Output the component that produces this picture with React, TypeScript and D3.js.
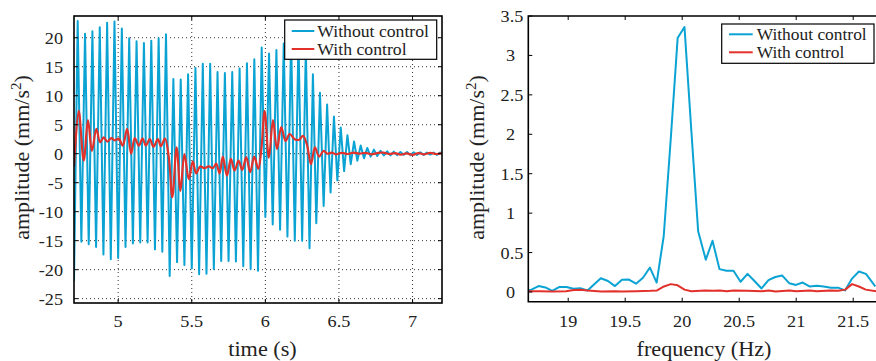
import React from 'react';
import * as d3 from 'd3';

// ---------- data ----------
const timeTicks = [5, 5.5, 6, 6.5, 7];
const ampTicks = [-25, -20, -15, -10, -5, 0, 5, 10, 15, 20];
const freqTicks = [19, 19.5, 20, 20.5, 21, 21.5];
const specTicks = [0, 0.5, 1, 1.5, 2, 2.5, 3, 3.5];

// trough times of the uncontrolled response (s): steady 20 Hz part, then free decay
const steadyTroughTimes = d3.range(33).map((k) => 4.7 + 0.05 * k);
const decayTroughTimes = [6.346, 6.396, 6.443, 6.489, 6.535, 6.58, 6.625, 6.67, 6.715, 6.76, 6.805, 6.85, 6.895, 6.94, 6.985, 7.03, 7.075, 7.12, 7.165, 7.21];
const troughValues = [-22.0, -15.2, -15.6, -16.1, -17.4, -18.2, -18.0, -16.1, -15.5, -15.3, -15.3, -16.5, -16.9, -21.1, -18.7, -19.2, -19.8, -20.8, -20.7, -19.9, -18.5, -18.5, -18.6, -19.4, -19.9, -20.2, -10.9, -12.2, -13.1, -14.3, -15.0, -15.0, -16.3, -12.0, -9.0, -6.7, -4.6, -3.0, -1.8, -1.2, -0.8, -0.5, -0.4, -0.3, -0.3, -0.25, -0.2, -0.25, -0.2, -0.2, -0.15, -0.2, -0.15];
const peakValues = [22.9, 20.7, 21.1, 21.8, 22.6, 22.8, 21.6, 19.9, 19.4, 19.1, 19.5, 19.9, 20.6, 12.9, 12.8, 13.7, 14.8, 15.5, 15.5, 14.1, 13.9, 14.1, 14.7, 15.6, 16.3, 18.3, 17.3, 17.9, 19.0, 20.0, 19.6, 18.2, 13.7, 10.5, 8.5, 6.4, 4.5, 3.2, 2.1, 1.4, 1.0, 0.7, 0.5, 0.4, 0.35, 0.3, 0.3, 0.25, 0.25, 0.2, 0.2, 0.2];

// controlled response
const ctrlTimes = [4.7, 4.732, 4.766, 4.795, 4.822, 4.852, 4.877, 4.902, 4.927, 4.954, 4.977, 5.004, 5.031, 5.061, 5.088, 5.113, 5.14, 5.166, 5.188, 5.215, 5.24, 5.27, 5.29, 5.318, 5.344, 5.368, 5.397, 5.423, 5.45, 5.48, 5.507, 5.53, 5.557, 5.586, 5.616, 5.643, 5.666, 5.689, 5.711, 5.739, 5.766, 5.791, 5.818, 5.843, 5.87, 5.897, 5.924, 5.952, 5.974, 5.995, 6.024, 6.052, 6.079, 6.108, 6.137, 6.165, 6.199, 6.229, 6.256, 6.283, 6.31, 6.337, 6.365, 6.396, 6.42, 6.45, 6.48, 6.52, 6.56, 6.6, 6.64, 6.68, 6.72, 6.76, 6.8, 6.84, 6.88, 6.92, 6.96, 7.0, 7.04, 7.08, 7.12, 7.16, 7.2];
const ctrlValues = [-2.3, 7.4, -1.2, 5.8, 0.5, 4.3, 2.0, 2.8, 2.1, 2.7, 2.3, 2.6, 1.4, 4.3, 0.0, 2.7, 1.4, 2.6, 1.4, 2.5, 1.2, 2.5, 1.3, 2.6, -0.6, -7.5, 1.1, -6.4, -0.05, -4.4, -1.3, -3.4, -2.2, -2.5, -2.2, -2.5, -1.7, -3.4, -0.5, -3.8, -0.9, -2.9, -1.2, -2.8, -0.6, -3.2, -0.5, -2.6, 1.1, 7.4, -0.7, 5.8, 0.8, 4.6, 2.2, 3.4, 2.5, 2.4, 3.1, 1.5, -1.8, 1.1, -0.5, 0.5, 0.0, 0.2, -0.1, 0.15, -0.05, 0.2, 0.0, 0.15, -0.1, 0.1, 0.2, -0.05, 0.1, -0.15, 0.05, -0.2, 0.1, -0.1, 0.15, -0.05, 0.1];

// spectra
const freqA = [18.65, 18.678, 18.74, 18.8, 18.86, 18.924, 18.985, 19.046, 19.106, 19.169, 19.286, 19.349, 19.41, 19.472, 19.529, 19.595, 19.656, 19.717, 19.776, 19.838, 19.9, 19.96, 20.02, 20.08, 20.14, 20.207, 20.266, 20.327, 20.389, 20.45, 20.512, 20.573, 20.634, 20.696, 20.757, 20.817, 20.876, 20.94, 20.998, 21.057, 21.117, 21.18, 21.24, 21.305, 21.367, 21.428, 21.49, 21.55, 21.612, 21.694];
const specWithout = [0.025, 0.03, 0.075, 0.058, 0.015, 0.065, 0.063, 0.042, 0.047, 0.02, 0.175, 0.14, 0.075, 0.155, 0.16, 0.105, 0.18, 0.31, 0.12, 0.71, 1.95, 3.22, 3.36, 2.05, 0.77, 0.41, 0.65, 0.29, 0.27, 0.27, 0.13, 0.23, 0.14, 0.045, 0.15, 0.19, 0.21, 0.11, 0.09, 0.12, 0.07, 0.08, 0.07, 0.055, 0.055, 0.02, 0.17, 0.26, 0.23, 0.07];
const freqB = [18.65, 18.74, 18.86, 18.98, 19.05, 19.11, 19.17, 19.29, 19.41, 19.47, 19.6, 19.72, 19.78, 19.84, 19.9, 19.96, 20.02, 20.08, 20.2, 20.27, 20.33, 20.39, 20.45, 20.57, 20.7, 20.76, 20.82, 20.94, 21.0, 21.12, 21.18, 21.3, 21.37, 21.43, 21.49, 21.55, 21.61, 21.7];
const specWith = [0.01, 0.01, 0.005, 0.01, 0.025, 0.03, 0.02, 0.005, 0.01, 0.005, 0.01, 0.015, 0.02, 0.07, 0.1, 0.085, 0.03, 0.01, 0.02, 0.015, 0.02, 0.01, 0.02, 0.015, 0.01, 0.02, 0.005, 0.02, 0.01, 0.02, 0.01, 0.02, 0.015, 0.03, 0.1, 0.07, 0.03, 0.01];

const legendLabels = ['Without control', 'With control'];

// ---------- style ----------
const BLUE = '#0aa3d4';
const RED = '#e2302a';
const FONT = '"Liberation Serif", "Times New Roman", Times, "DejaVu Serif", serif';

// width of a numeric tick label in a Times-like font (em units)
function numWidth(s: string, fs: number) {
  let w = 0;
  for (const ch of s) w += ch === '.' ? 0.25 : ch === '-' ? 0.333 : 0.5;
  return w * fs;
}

export default function App() {
  // left axes
  const L = { x0: 74, x1: 442, y0: 16, y1: 303 };
  const xT = d3.scaleLinear().domain([4.7, 7.2]).range([L.x0, L.x1]);
  const yA = d3.scaleLinear().domain([-25.75, 23.75]).range([L.y1, L.y0]);
  // right axes
  const R = { x0: 528.3, x1: 876, y0: 16, y1: 301.7 };
  const xF = d3.scaleLinear().domain([18.65, 21.7]).range([R.x0, R.x1]);
  const yS = d3.scaleLinear().domain([-0.123, 3.5]).range([R.y1, R.y0]);

  const troughTimes = steadyTroughTimes.concat(decayTroughTimes);
  const bluePts: [number, number][] = [];
  troughValues.forEach((v, k) => {
    bluePts.push([troughTimes[k], v]);
    if (k < peakValues.length) bluePts.push([(troughTimes[k] + troughTimes[k + 1]) / 2, peakValues[k]]);
  });
  const redPts: [number, number][] = ctrlTimes.map((t, i) => [t, ctrlValues[i]]);

  const lineL = d3.line<[number, number]>().x((d) => xT(d[0])).y((d) => yA(d[1]));
  const lineLs = d3.line<[number, number]>().x((d) => xT(d[0])).y((d) => yA(d[1])).curve(d3.curveCatmullRom.alpha(0.5));
  const lineR = d3.line<[number, number]>().x((d) => xF(d[0])).y((d) => yS(d[1]));

  const specA: [number, number][] = freqA.map((f, i) => [f, specWithout[i]]);
  const specB: [number, number][] = freqB.map((f, i) => [f, specWith[i]]);

  const tk = 4;
  const tickFs = 17.5;
  const txt = { fontFamily: FONT } as React.CSSProperties;
  const fit = 'spacingAndGlyphs';
  const legW = [[111.7, 89.3], [110, 87.7]];

  const Tick = (p: { x: number; y: number; s: string; anchor: string; dy?: string }) => (
    <text style={txt} x={p.x} y={p.y} dy={p.dy} textAnchor={p.anchor} fontSize={tickFs} fill="#222"
      textLength={numWidth(p.s, 18.2)} lengthAdjust={fit}>{p.s}</text>
  );

  const YLabel = (p: { x: number }) => (
    <text style={txt} transform={`translate(${p.x},157.5) rotate(-90)`} textAnchor="middle" fontSize={22} fill="#222">
      amplitude (mm/s<tspan fontSize={15} dy={-8}>2</tspan><tspan dy={8}>)</tspan>
    </text>
  );

  return (
    <svg width={876} height={361} style={{ position: 'absolute', left: 0, top: 0, background: '#fff', fontFamily: FONT }}>
      <defs>
        <clipPath id="clipL"><rect x={L.x0} y={L.y0} width={L.x1 - L.x0} height={L.y1 - L.y0} /></clipPath>
        <clipPath id="clipR"><rect x={R.x0} y={R.y0} width={R.x1 - R.x0 + 5} height={R.y1 - R.y0} /></clipPath>
      </defs>
      <rect x={0} y={0} width={876} height={361} fill="#fff" />

      {/* ---------- left plot ---------- */}
      <g>
        {timeTicks.map((t) => (
          <line key={'gx' + t} x1={xT(t)} x2={xT(t)} y1={L.y0} y2={L.y1} stroke="#333" strokeWidth={1} strokeDasharray="1,3" />
        ))}
        {ampTicks.map((v) => (
          <line key={'gy' + v} x1={L.x0} x2={L.x1} y1={yA(v)} y2={yA(v)} stroke="#333" strokeWidth={1} strokeDasharray="1,3" />
        ))}
        <g clipPath="url(#clipL)">
          <path d={lineL(bluePts) || ''} fill="none" stroke={BLUE} strokeWidth={2} strokeLinejoin="round" />
          <path d={lineLs(redPts) || ''} fill="none" stroke={RED} strokeWidth={2.2} strokeLinejoin="round" />
        </g>
        {timeTicks.map((t) => (
          <g key={'tx' + t}>
            <line x1={xT(t)} x2={xT(t)} y1={L.y1} y2={L.y1 - tk} stroke="#000" />
            <line x1={xT(t)} x2={xT(t)} y1={L.y0} y2={L.y0 + tk} stroke="#000" />
            <Tick x={xT(t)} y={326.7} s={String(t)} anchor="middle" />
          </g>
        ))}
        {ampTicks.map((v) => (
          <g key={'ty' + v}>
            <line x1={L.x0} x2={L.x0 + tk} y1={yA(v)} y2={yA(v)} stroke="#000" />
            <line x1={L.x1} x2={L.x1 - tk} y1={yA(v)} y2={yA(v)} stroke="#000" />
            <Tick x={63} y={yA(v)} dy="0.34em" s={String(v)} anchor="end" />
          </g>
        ))}
        <rect x={L.x0} y={L.y0} width={L.x1 - L.x0} height={L.y1 - L.y0} fill="none" stroke="#000" strokeWidth={1.6} />

        {/* legend */}
        <rect x={284.7} y={20} width={152} height={39.3} fill="#fff" stroke="#000" strokeWidth={1.2} />
        {legendLabels.map((lab, i) => (
          <g key={'ll' + i}>
            <line x1={291.7} x2={314.3} y1={31 + 18 * i} y2={31 + 18 * i} stroke={i === 0 ? BLUE : RED} strokeWidth={2} />
            <text style={txt} x={317.3} y={36.6 + 18 * i} fontSize={17} fill="#222" textLength={legW[0][i]} lengthAdjust={fit}>{lab}</text>
          </g>
        ))}

        {/* axis titles */}
        <text style={txt} x={262.5} y={356} textAnchor="middle" fontSize={22} fill="#222" textLength={68.4} lengthAdjust={fit}>time (s)</text>
        <YLabel x={29} />
      </g>

      {/* ---------- right plot ---------- */}
      <g>
        <g clipPath="url(#clipR)">
          <path d={lineR(specA) || ''} fill="none" stroke={BLUE} strokeWidth={2} strokeLinejoin="round" />
          <path d={lineR(specB) || ''} fill="none" stroke={RED} strokeWidth={2} strokeLinejoin="round" />
        </g>
        {freqTicks.map((f) => (
          <g key={'fx' + f}>
            <line x1={xF(f)} x2={xF(f)} y1={R.y1} y2={R.y1 - tk} stroke="#000" />
            <line x1={xF(f)} x2={xF(f)} y1={R.y0} y2={R.y0 + tk} stroke="#000" />
            <Tick x={xF(f)} y={326.7} s={String(f)} anchor="middle" />
          </g>
        ))}
        {specTicks.map((v) => (
          <g key={'fy' + v}>
            <line x1={R.x0} x2={R.x0 + tk} y1={yS(v)} y2={yS(v)} stroke="#000" />
            <Tick x={Number.isInteger(v) ? 515 : 523.3} y={yS(v)} dy="0.34em" s={String(v)} anchor="end" />
          </g>
        ))}
        <path d={`M${R.x1 + 6},${R.y0}H${R.x0}V${R.y1}H${R.x1 + 6}`} fill="none" stroke="#000" strokeWidth={1.6} />

        <rect x={721.7} y={24} width={152.3} height={39.3} fill="#fff" stroke="#000" strokeWidth={1.2} />
        {legendLabels.map((lab, i) => (
          <g key={'rl' + i}>
            <line x1={729} x2={752.7} y1={34.3 + 18 * i} y2={34.3 + 18 * i} stroke={i === 0 ? BLUE : RED} strokeWidth={2} />
            <text style={txt} x={756.7} y={40 + 18 * i} fontSize={17} fill="#222" textLength={legW[1][i]} lengthAdjust={fit}>{lab}</text>
          </g>
        ))}

        <text style={txt} x={704} y={356} textAnchor="middle" fontSize={22} fill="#222" textLength={135} lengthAdjust={fit}>frequency (Hz)</text>
        <YLabel x={484} />
      </g>
    </svg>
  );
}
